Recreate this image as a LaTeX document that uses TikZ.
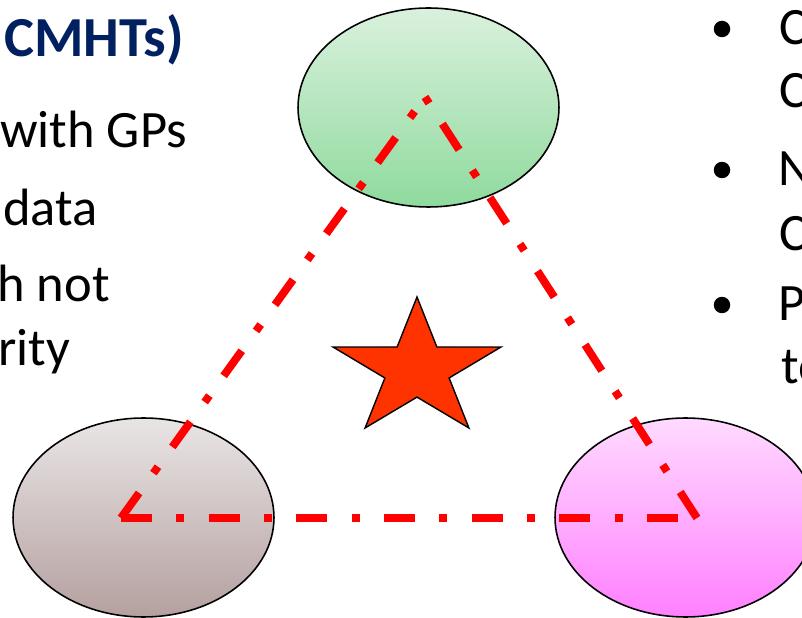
\documentclass[tikz,border=0pt]{standalone}
\usepackage{fontspec}
\setmainfont{Carlito}
\usetikzlibrary{shapes.geometric}
\definecolor{titleblue}{HTML}{002060}
\definecolor{starred}{HTML}{FF3300}
\newcommand\slidefont{\fontsize{29.9pt}{35pt}\selectfont}
\newcommand\slidetitlefont{\fontsize{32.2pt}{38pt}\selectfont\bfseries}
\tikzset{
    blob/.style={ellipse, draw=black, line width=0.9pt, minimum width=5.22cm, minimum height=3.98cm, inner sep=0pt}, % 三个椭圆
    dashdot link/.style={red, line width=4.5pt, dash pattern=on 17.6pt off 13.9pt on 4.5pt off 13.9pt}, % 点划线
    line text/.style={anchor=base west, inner sep=0pt, font=\slidefont}, % 正文
    dot/.style={circle, fill=black, inner sep=0pt, minimum size=0.33cm} % 项目符号
}

\begin{document}
\begin{tikzpicture}[x=0.02cm, y=-0.02cm]
            \useasboundingbox (0,0) rectangle (802,618);
            \clip (0,0) rectangle (802,618);

            \node[blob, top color={rgb,255:red,218;green,241;blue,221}, bottom color={rgb,255:red,143;green,218;blue,158}] (gp) at (428.5,107.5) {};
            \node[blob, top color={rgb,255:red,233;green,229;blue,229}, bottom color={rgb,255:red,180;green,160;blue,159}] (lft) at (143.5,517.5) {};
            \node[blob, top color={rgb,255:red,255;green,218;blue,255}, bottom color={rgb,255:red,255;green,128;blue,255}] (rgt) at (685.5,517.5) {};

            \coordinate (ctop) at (425,97);
            \coordinate (cleft) at (121,518);
            \coordinate (cright) at (697,518);
            \draw[dashdot link] (cleft) -- (cright);
            \draw[dashdot link] (cright) -- (ctop);
            \draw[dashdot link] (cleft) -- (ctop);

            \begin{scope}[shift={(417,369.4)}, x=0.0244cm, y=0.02cm]
                \draw[fill=starred, line width=0.8pt, line join=miter]
                    (90:72.4) -- (126:27.7) -- (162:72.4) -- (198:27.7) -- (234:72.4) -- (270:27.7)
                    -- (306:72.4) -- (342:27.7) -- (18:72.4) -- (54:27.7) -- cycle;
            \end{scope}

            \node[anchor=base west, inner sep=0pt, font=\slidetitlefont, text=titleblue] (title) at (4,57) {CMHTs)};
            \node[line text] (l1) at (0,148) {with GPs};
            \node[line text, anchor=base east] (l2) at (98,226) {data};
            \node[line text] (l3) at (-3,302) {h not};
            \node[line text] (l4) at (-2,366) {rity};

            \foreach \y/\n in {29/a,170/b,305/c} {\node[dot] (bul\n) at (722,\y) {};}
            \node[line text] (r1) at (779.5,45) {C};
            \node[line text] (r2) at (779.5,108) {C};
            \node[line text] (r3) at (778,186) {N};
            \node[line text] (r4) at (779.5,251) {C};
            \node[line text] (r5) at (778,321) {P};
            \node[line text] (r6) at (781,384) {to};
        \end{tikzpicture}
\end{document}
